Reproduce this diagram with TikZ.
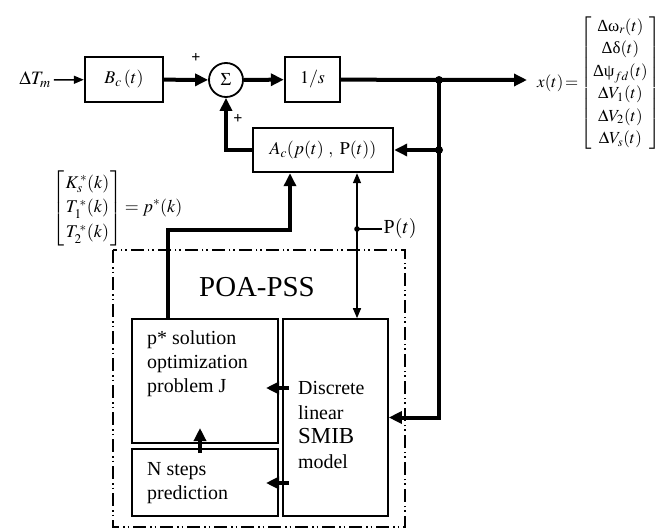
\documentclass[tikz,border=0pt]{standalone}
\usepackage{amsmath}
\usepackage{mathptmx}
\usepackage{fontspec}
\setmainfont{Liberation Serif}
\usetikzlibrary{arrows.meta,positioning}
\tikzset{
  poa block/.style={draw, line width=2.4bp, inner sep=0pt},
  poa sub/.style={draw, line width=1.6bp, inner sep=0pt},
  poa sum/.style={circle, draw, line width=1.8bp, minimum size=34bp, inner sep=0pt},
  poa thick/.style={line width=4bp},
  poa thin/.style={line width=1.5bp},
  poa big tip/.style={arrows={-Triangle[length=13bp,width=12bp]}},
  poa tip/.style={arrows={-Triangle[length=10bp,width=8bp]}},
  poa both/.style={arrows={Triangle[length=10bp,width=8bp]-Triangle[length=10bp,width=8bp]}},
  poa frame/.style={line width=1.3bp, dash pattern=on 13bp off 4bp on 1.5bp off 3bp on 1.5bp off 4bp},
  poa text/.style={inner sep=0pt, align=left, font=\fontsize{20}{24.5}\selectfont},
}

\begin{document}
\begin{tikzpicture}[x=1bp, y=-1bp, font=\fontsize{18}{22}\selectfont]
  \useasboundingbox (0,0) rectangle (670,530);

  % forward path of the SMIB model
  \node[inner sep=3bp, font=\fontsize{19}{22}\selectfont] (dTm) at (35,80) {$\Delta T_m$};
  \node[poa block, minimum width=78bp, minimum height=45bp] (Bc) at (124,79.5) {$B_c\,(t)$};
  \node[poa sum] (sum) at (226,80) {$\Sigma$};
  \node[poa block, minimum width=55bp, minimum height=45bp] (invs) at (312.5,79.5) {$1/s$};
  \node[poa block, minimum width=140bp, minimum height=44bp] (Ac) at (323,150) {$A_c(p(t)\ ,\ \mathrm{P}(t))$};
  \node[font=\fontsize{16}{18}\selectfont\bfseries] (plus1) at (196,58) {+};
  \node[font=\fontsize{16}{18}\selectfont\bfseries] (plus2) at (238,119) {+};
  \coordinate (j1) at (439,80);
  \coordinate (j2) at (439,150);
  \coordinate (xtip) at (527,80);
  \node[right=10bp of xtip, yshift=-3bp, inner sep=0pt, font=\fontsize{17}{22.5}\selectfont] (xvec)
    {$\arraycolsep=1.5bp x(t)\!=\!\left[\begin{array}{c}
      \text{Δω}_r(t)\\ \text{Δδ}(t)\\ \text{Δψ}_{fd}(t)\\
      \Delta V_1(t)\\ \Delta V_2(t)\\ \Delta V_s(t)
    \end{array}\right]$};

  % optimal parameter vector
  \node[anchor=west, inner sep=0pt, font=\fontsize{18}{25}\selectfont] (pvec) at (52,208)
    {$\arraycolsep=1.5bp\left[\begin{array}{c}
      K_s^{\,*}(k)\\ T_1^{\,*}(k)\\ T_2^{\,*}(k)
    \end{array}\right]\!= p^*(k)$};

  % POA-PSS controller
  \draw[poa frame] (113,250) rectangle (405,527);
  \node[font=\fontsize{29}{32}\selectfont] (poa) at (257,287) {POA-PSS};
  \node[poa sub, minimum width=146bp, minimum height=124bp] (pstar) at (205,381) {};
  \node[poa sub, minimum width=146bp, minimum height=67bp] (nsteps) at (205,482.5) {};
  \node[poa sub, minimum width=105bp, minimum height=197bp] (smib) at (335.5,417.5) {};
  \node[poa text, anchor=north west] (ptxt) at (147,330) {p* solution\\optimization\\problem J};
  \node[poa text, anchor=west] (ntxt) at (147,483) {N steps\\prediction};
  \node[poa text, anchor=west] (stxt) at (298,425) {Discrete\\linear\\{\fontsize{23}{25}\selectfont SMIB}\\model};

  % connectors
  \draw[poa thin, poa tip] (dTm) -- (Bc);
  \draw[poa thick, poa big tip] (Bc) -- (sum);
  \draw[poa thick, poa big tip] (sum) -- (invs);
  \draw[poa thick, poa big tip] (invs) -- (j1) -- (xtip);
  \draw[poa thick, poa big tip] (j1) |- (smib.east);
  \draw[poa thick, poa big tip] (j2) -- (Ac);
  \draw[poa thick, poa big tip] (Ac.west) -| (sum.south);
  \fill (j1) circle (4bp);
  \fill (j2) circle (4bp);

  % p* back to A_c
  \coordinate (pout) at (168,230);
  \coordinate (ain) at (290,230);
  \draw[poa thick, poa big tip] (pout |- pstar.north) -- (pout) -- (ain) -- (ain |- Ac.south);

  % P(t) tap
  \coordinate (ptap) at (357,229);
  \draw[poa thin, poa both] (ptap |- Ac.south) -- (ptap |- smib.north);
  \fill (ptap) circle (2.8bp);
  \node[anchor=west, inner sep=1.5bp, font=\fontsize{20}{22}\selectfont] (plab) at (382,229) {P$(t)$};
  \draw[poa thin] (ptap) -- (plab);

  % arrows inside the controller
  \coordinate (sa) at (289,388);
  \coordinate (sb) at (289,483);
  \coordinate (nup) at (200,453);
  \draw[poa thick, poa big tip] (sa) -- +(-23,0);
  \draw[poa thick, poa big tip] (sb) -- +(-23,0);
  \draw[poa thick, poa big tip] (nup) -- +(0,-25);
\end{tikzpicture}
\end{document}
